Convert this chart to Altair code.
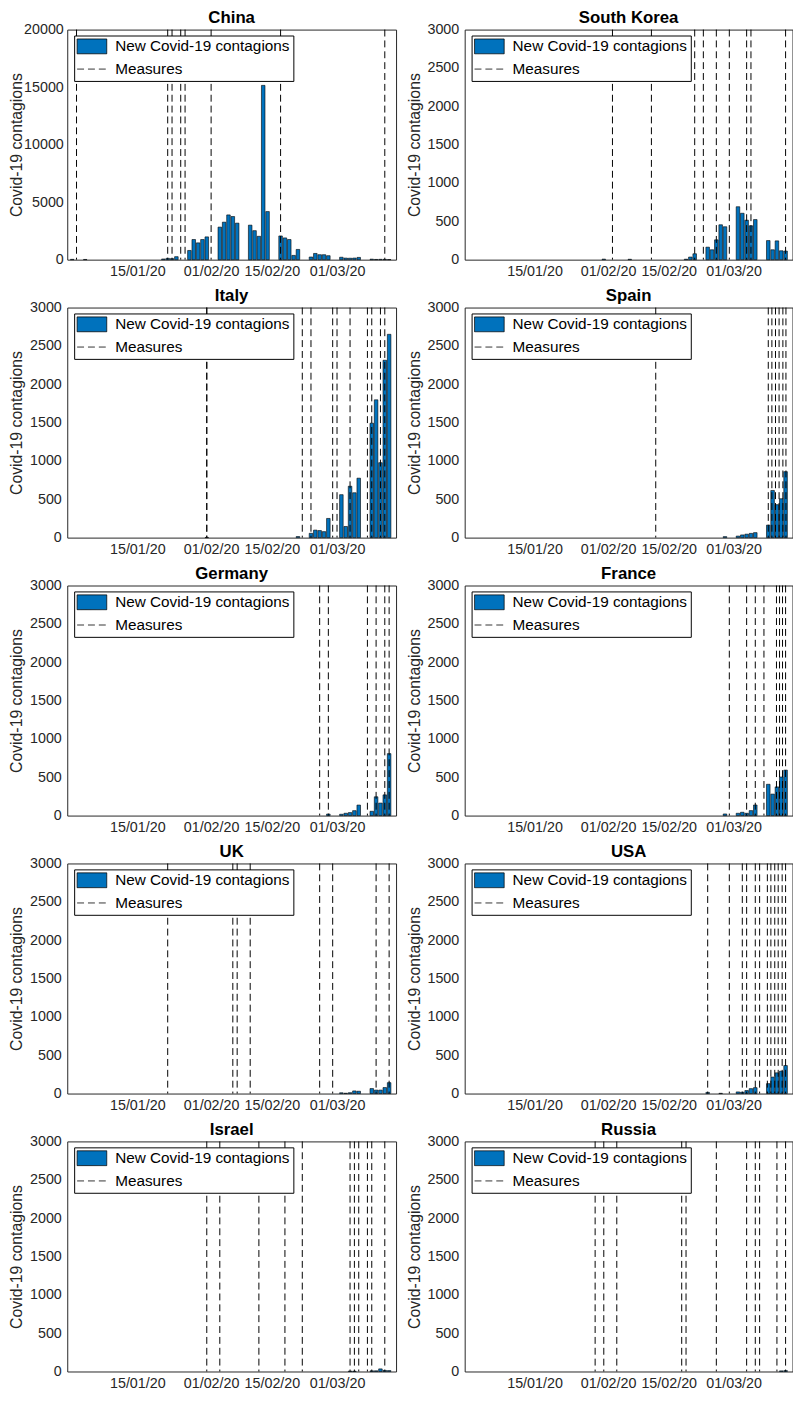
import altair as alt
import pandas as pd

BLUE = "#0072BD"
AXIS = "#262626"
FONT = "Liberation Sans"
SERIES = "New Covid-19 contagions"
MEASURE = "Measures"

# ---------------- data (weekday reports) ----------------
china_dates = ["2019-12-31", "2020-01-03", "2020-01-21", "2020-01-22", "2020-01-23", "2020-01-24",
               "2020-01-27", "2020-01-28", "2020-01-29", "2020-01-30", "2020-01-31",
               "2020-02-03", "2020-02-04", "2020-02-05", "2020-02-06", "2020-02-07",
               "2020-02-10", "2020-02-11", "2020-02-12", "2020-02-13", "2020-02-14",
               "2020-02-17", "2020-02-18", "2020-02-19", "2020-02-20", "2020-02-21",
               "2020-02-24", "2020-02-25", "2020-02-26", "2020-02-27", "2020-02-28",
               "2020-03-02", "2020-03-03", "2020-03-04", "2020-03-05", "2020-03-06",
               "2020-03-09", "2020-03-10", "2020-03-11", "2020-03-12", "2020-03-13"]
china_cases = [27, 17, 60, 115, 90, 260,
               800, 1750, 1460, 1750, 1980,
               2830, 3260, 3890, 3750, 3175,
               3000, 2520, 2030, 15150, 4180,
               2060, 1890, 1750, 370, 890,
               230, 540, 430, 430, 345,
               210, 135, 125, 140, 195,
               45, 20, 30, 25, 10]
china_measures = ["2020-01-01", "2020-01-22", "2020-01-23", "2020-01-25", "2020-01-26",
                  "2020-02-01", "2020-02-17", "2020-03-12"]

korea_dates = ["2020-01-31", "2020-02-06", "2020-02-19", "2020-02-20", "2020-02-21",
               "2020-02-24", "2020-02-25", "2020-02-26", "2020-02-27", "2020-02-28",
               "2020-03-02", "2020-03-03", "2020-03-04", "2020-03-05", "2020-03-06",
               "2020-03-09", "2020-03-10", "2020-03-11", "2020-03-12", "2020-03-13"]
korea_cases = [7, 5, 6, 34, 77,
               163, 129, 258, 455, 429,
               690, 605, 515, 442, 523,
               249, 129, 245, 116, 112]
korea_measures = ["2020-02-02", "2020-02-11", "2020-02-21", "2020-02-23", "2020-02-26",
                  "2020-02-29", "2020-03-04", "2020-03-05", "2020-03-13"]

italy_dates = ["2020-01-31", "2020-02-21",
               "2020-02-24", "2020-02-25", "2020-02-26", "2020-02-27", "2020-02-28",
               "2020-03-02", "2020-03-03", "2020-03-04", "2020-03-05", "2020-03-06",
               "2020-03-09", "2020-03-10", "2020-03-11", "2020-03-12", "2020-03-13"]
italy_cases = [2, 14,
               56, 98, 92, 78, 250,
               560, 145, 670, 585, 775,
               1492, 1797, 977, 2313, 2651]
italy_measures = ["2020-01-31", "2020-01-31", "2020-02-22", "2020-02-24", "2020-02-29",
                  "2020-03-01", "2020-03-04", "2020-03-08", "2020-03-09", "2020-03-11",
                  "2020-03-12"]

spain_dates = ["2020-02-28",
               "2020-03-02", "2020-03-03", "2020-03-04", "2020-03-05", "2020-03-06",
               "2020-03-09", "2020-03-10", "2020-03-11", "2020-03-12", "2020-03-13"]
spain_cases = [13, 20, 35, 45, 55, 65, 163, 615, 430, 507, 860]
spain_measures = ["2020-02-12", "2020-03-09T00:00", "2020-03-09T20:00", "2020-03-10T16:00",
                  "2020-03-11T12:00", "2020-03-12T09:00", "2020-03-13T02:00"]

germany_dates = ["2020-02-28",
                 "2020-03-02", "2020-03-03", "2020-03-04", "2020-03-05", "2020-03-06",
                 "2020-03-09", "2020-03-10", "2020-03-11", "2020-03-12", "2020-03-13"]
germany_cases = [20, 17, 30, 39, 64, 137, 56, 245, 163, 270, 808]
germany_measures = ["2020-02-26", "2020-02-28", "2020-03-08", "2020-03-10", "2020-03-12",
                    "2020-03-13"]

france_dates = ["2020-02-28",
                "2020-03-02", "2020-03-03", "2020-03-04", "2020-03-05", "2020-03-06",
                "2020-03-09", "2020-03-10", "2020-03-11", "2020-03-12", "2020-03-13"]
france_cases = [21, 30, 43, 30, 65, 138, 408, 280, 374, 503, 593]
france_measures = ["2020-02-29", "2020-03-04", "2020-03-06", "2020-03-08",
                   "2020-03-10T21:30", "2020-03-11T14:30", "2020-03-12T07:00", "2020-03-13T00:00"]

uk_dates = ["2020-03-02", "2020-03-03", "2020-03-04", "2020-03-05", "2020-03-06",
            "2020-03-09", "2020-03-10", "2020-03-11", "2020-03-12", "2020-03-13"]
uk_cases = [10, 4, 11, 34, 30, 65, 45, 45, 78, 142]
uk_measures = ["2020-01-22", "2020-02-06", "2020-02-07", "2020-02-10", "2020-02-26",
               "2020-02-29", "2020-03-10", "2020-03-13"]

usa_dates = ["2020-02-24", "2020-02-27",
             "2020-03-02", "2020-03-03", "2020-03-04", "2020-03-05", "2020-03-06",
             "2020-03-09", "2020-03-10", "2020-03-11", "2020-03-12", "2020-03-13"]
usa_cases = [15, 3, 21, 17, 39, 64, 77, 129, 215, 270, 292, 365]
usa_measures = ["2020-02-24", "2020-02-29", "2020-03-03", "2020-03-04", "2020-03-06",
                "2020-03-07", "2020-03-08T19:00", "2020-03-09T14:30", "2020-03-10T12:00",
                "2020-03-11T07:00", "2020-03-12T05:00", "2020-03-13T00:00"]

israel_dates = ["2020-03-04", "2020-03-05", "2020-03-09", "2020-03-10", "2020-03-11",
                "2020-03-12", "2020-03-13"]
israel_cases = [5, 4, 9, 9, 34, 14, 12]
israel_measures = ["2020-01-31", "2020-02-03", "2020-02-12", "2020-02-18", "2020-02-22",
                   "2020-03-04", "2020-03-05", "2020-03-06", "2020-03-08", "2020-03-09",
                   "2020-03-12"]

russia_dates = ["2020-03-12", "2020-03-13"]
russia_cases = [8, 12]
russia_measures = ["2020-01-29", "2020-01-31", "2020-02-03", "2020-02-18", "2020-02-19",
                   "2020-02-26", "2020-03-04", "2020-03-06", "2020-03-07", "2020-03-11",
                   "2020-03-13"]

tick_dates = [(2020, 1, 15), (2020, 2, 1), (2020, 2, 15), (2020, 3, 1)]


def to_ms(dates):
    ts = pd.to_datetime(pd.Series(dates), utc=True, format="ISO8601")
    return (ts.astype("int64") // 10**6).tolist()


# ---------------- chart construction ----------------
x_scale = alt.Scale(
    type="utc",
    domain=[alt.DateTime(year=2019, month=12, date=31, utc=True),
            alt.DateTime(year=2020, month=3, date=13, hours=11, utc=True)],
    nice=False,
)
x_axis = alt.Axis(
    values=[alt.DateTime(year=y, month=m, date=d, utc=True) for (y, m, d) in tick_dates],
    format="%d/%m/%y", title=None, labelOverlap=False, labelFlush=False, labelPadding=5.5,
)
DOMAIN = [SERIES, MEASURE]
fill_scale = alt.Scale(domain=DOMAIN, range=[BLUE, "transparent"])
dash_scale = alt.Scale(domain=DOMAIN, range=[[1, 0], [7, 4]])
# legend keys: a 30x15 swatch and a 30px dashed line (size 225 -> radius 7.5)
shape_scale = alt.Scale(domain=DOMAIN, range=["M-2,-1H2V1H-2Z", "M-2,0H2"])

legend = alt.Legend(
    title=None, orient="none", legendX=7, legendY=6,
    fillColor="white", strokeColor="black", cornerRadius=0, padding=3,
    labelFont=FONT, labelFontSize=15.5, labelColor="black", labelLimit=400,
    symbolSize=225, symbolOffset=7, labelOffset=15.5,
    symbolStrokeWidth=0.8, symbolStrokeColor="black", symbolOpacity=1,
    rowPadding=5,
)


def panel(name, dates, cases, measures, ymax, ystep, width, title_x, label_pad=6):
    bars = pd.DataFrame({"date": to_ms(dates), "cases": cases, "series": SERIES})
    lines = pd.DataFrame({"date": to_ms(measures), "series": MEASURE})
    keys = pd.DataFrame({"series": pd.Series([], dtype="object")})
    bar_layer = alt.Chart(bars).mark_bar(size=3.6, stroke="black", strokeWidth=0.6).encode(
        x=alt.X("date:T", scale=x_scale, axis=x_axis),
        y=alt.Y("cases:Q", scale=alt.Scale(domain=[0, ymax], nice=False),
                axis=alt.Axis(values=list(range(0, ymax + 1, ystep)), format="d",
                              title="Covid-19 contagions", titleX=title_x,
                              titleBaseline="bottom", labelPadding=label_pad)),
        fill=alt.Fill("series:N", scale=fill_scale, legend=legend),
    )
    rule_layer = alt.Chart(lines).mark_rule(color="black", strokeWidth=1).encode(
        x=alt.X("date:T"),
        strokeDash=alt.StrokeDash("series:N", scale=dash_scale, legend=legend),
    )
    key_layer = alt.Chart(keys).mark_point(filled=False).encode(
        shape=alt.Shape("series:N", scale=shape_scale, legend=legend),
    )
    return alt.layer(bar_layer, rule_layer, key_layer).properties(
        width=width, height=233,
        title=alt.Title(name, fontSize=17, fontWeight="bold", font=FONT, color="black",
                        offset=-5.25, anchor="middle"),
    )


WL = 333   # left column plot width
WR = 332   # right column plot width (reaches the page edge)
TL = -43   # y-title position
panels = [
    panel("China", china_dates, china_cases, china_measures, 20000, 5000, WL, TL, 4),
    panel("South Korea", korea_dates, korea_cases, korea_measures, 3000, 500, WR, TL),
    panel("Italy", italy_dates, italy_cases, italy_measures, 3000, 500, WL, TL),
    panel("Spain", spain_dates, spain_cases, spain_measures, 3000, 500, WR, TL),
    panel("Germany", germany_dates, germany_cases, germany_measures, 3000, 500, WL, TL),
    panel("France", france_dates, france_cases, france_measures, 3000, 500, WR, TL),
    panel("UK", uk_dates, uk_cases, uk_measures, 3000, 500, WL, TL),
    panel("USA", usa_dates, usa_cases, usa_measures, 3000, 500, WR, TL),
    panel("Israel", israel_dates, israel_cases, israel_measures, 3000, 500, WL, TL),
    panel("Russia", russia_dates, russia_cases, russia_measures, 3000, 500, WR, TL),
]

IND = dict(fill="independent", strokeDash="independent", shape="independent")

chart = alt.concat(
    *panels, columns=2, bounds="full",
    spacing=alt.RowColnumber(row=6.5, column=8.5),
).resolve_scale(x="independent", y="independent", **IND).resolve_legend(**IND).properties(
    padding={"top": -9, "left": 0, "right": 0, "bottom": 0}, background="white"
).configure_axis(
    labelFont=FONT, labelFontSize=14.5, labelColor=AXIS, titleFont=FONT, titleFontSize=16,
    titleFontWeight="normal", titleColor=AXIS, grid=False, ticks=False, tickSize=0,
    domain=False,
).configure_view(stroke=AXIS, strokeWidth=1)

chart.save("out.html", embed_options={"renderer": "svg", "actions": False})
